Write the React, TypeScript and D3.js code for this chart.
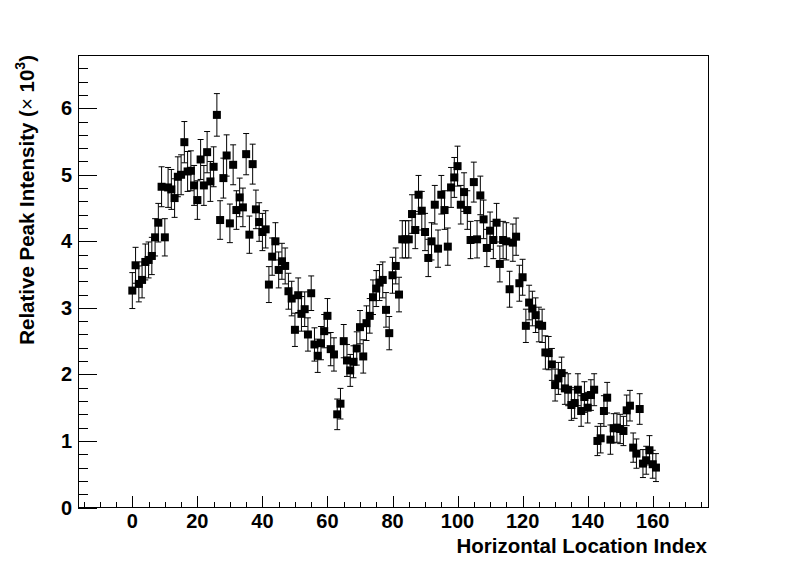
import * as d3 from "d3";
import React from "react";

// peak intensity (x 10^3) per horizontal location index 0..161
const intensity = [
  3.26, 3.64, 3.36, 3.42, 3.69, 3.72, 3.78, 4.06, 4.28, 4.82,
  4.06, 4.81, 4.78, 4.65, 4.97, 5.0, 5.49, 5.05, 5.06, 4.84,
  4.62, 5.23, 4.84, 5.34, 4.9, 5.12, 5.9, 4.32, 4.95, 5.29,
  4.27, 5.15, 4.47, 4.66, 4.51, 5.31, 4.1, 5.16, 4.48, 4.29,
  4.14, 4.18, 3.35, 3.77, 4.0, 3.57, 3.7, 3.63, 3.25, 3.14,
  2.67, 3.19, 2.91, 2.98, 2.6, 3.22, 2.45, 2.28, 2.47, 2.65,
  2.88, 2.38, 2.3, 1.4, 1.56, 2.5, 2.21, 2.06, 2.19, 2.39,
  2.71, 2.27, 2.77, 2.88, 3.16, 3.29, 3.38, 3.42, 2.97, 2.62,
  3.49, 3.63, 3.2, 4.03, 4.03, 4.03, 4.41, 4.17, 4.7, 4.46,
  4.14, 3.75, 4.0, 4.55, 3.89, 4.7, 4.47, 3.92, 4.81, 4.96,
  5.13, 4.55, 4.74, 4.47, 4.02, 4.89, 4.03, 4.69, 4.33, 3.9,
  4.16, 4.02, 4.28, 3.66, 4.02, 4.0, 3.28, 3.98, 4.07, 3.37,
  3.46, 2.73, 3.08, 2.99, 2.89, 2.75, 2.73, 2.33, 2.32, 2.15,
  1.84, 1.94, 2.02, 1.79, 1.77, 1.54, 1.57, 1.77, 1.45, 1.66,
  1.5, 1.69, 1.77, 1.0, 1.04, 1.45, 1.65, 1.02, 1.19, 1.2,
  1.18, 1.15, 1.46, 1.53, 0.9, 0.81, 1.48, 0.66, 0.71, 0.86,
  0.65, 0.6,
];

// error half-widths, same order
const errors = [
  0.27, 0.27, 0.27, 0.27, 0.27, 0.27, 0.28, 0.28, 0.29, 0.3,
  0.28, 0.3, 0.3, 0.29, 0.3, 0.3, 0.31, 0.3, 0.3, 0.3,
  0.29, 0.3, 0.3, 0.31, 0.3, 0.3, 0.32, 0.29, 0.3, 0.31,
  0.29, 0.3, 0.29, 0.29, 0.29, 0.31, 0.28, 0.3, 0.29, 0.29,
  0.28, 0.28, 0.27, 0.28, 0.28, 0.27, 0.27, 0.27, 0.27, 0.26,
  0.25, 0.26, 0.26, 0.26, 0.25, 0.26, 0.25, 0.25, 0.25, 0.25,
  0.26, 0.25, 0.25, 0.23, 0.23, 0.25, 0.24, 0.24, 0.24, 0.25,
  0.25, 0.25, 0.26, 0.26, 0.26, 0.27, 0.27, 0.27, 0.26, 0.25,
  0.27, 0.27, 0.26, 0.28, 0.28, 0.28, 0.29, 0.28, 0.29, 0.29,
  0.28, 0.28, 0.28, 0.29, 0.28, 0.29, 0.29, 0.28, 0.3, 0.3,
  0.3, 0.29, 0.29, 0.29, 0.28, 0.3, 0.28, 0.29, 0.29, 0.28,
  0.28, 0.28, 0.29, 0.27, 0.28, 0.28, 0.27, 0.28, 0.28, 0.27,
  0.27, 0.25, 0.26, 0.26, 0.26, 0.26, 0.25, 0.25, 0.25, 0.24,
  0.24, 0.24, 0.24, 0.24, 0.24, 0.23, 0.23, 0.24, 0.23, 0.23,
  0.23, 0.23, 0.24, 0.22, 0.22, 0.23, 0.23, 0.22, 0.22, 0.22,
  0.22, 0.22, 0.23, 0.23, 0.22, 0.22, 0.23, 0.21, 0.21, 0.22,
  0.21, 0.21,
];

const xMajor = [0, 20, 40, 60, 80, 100, 120, 140, 160];
const yMajor = [0, 1, 2, 3, 4, 5, 6];

const W = 788;
const H = 565;
const FONT = "'Liberation Sans', Arial, Helvetica, sans-serif";

export default function App() {
  const x = d3.scaleLinear().domain([-16.7, 177]).range([78, 708]);
  const y = d3.scaleLinear().domain([0, 6.8]).range([507.5, 55]);

  const xMinor = d3.range(-15, 177, 5).filter((v) => v % 20 !== 0);
  const yMinor = d3.range(0, 6.81, 0.2).filter((v) => Math.abs(v - Math.round(v)) > 0.01);

  const [x0, x1] = x.range();
  const [y0, y1] = y.range();
  const m = 4; // half marker size
  const cap = 3;

  return (
    <div style={{ position: "absolute", left: 0, top: 0 }}>
      <svg width={W} height={H} style={{ display: "block", background: "#fff" }} fontFamily={FONT}>
        <rect x={0} y={0} width={W} height={H} fill="#fff" />

        {/* frame */}
        <rect x={x0} y={y1} width={x1 - x0} height={y0 - y1} fill="none" stroke="#000" strokeWidth={1} shapeRendering="crispEdges" />

        {/* x ticks */}
        <g stroke="#000" shapeRendering="crispEdges">
          {xMajor.map((v) => (
            <line key={"xM" + v} x1={Math.round(x(v)) + 0.5} x2={Math.round(x(v)) + 0.5} y1={y0} y2={y0 - 12} />
          ))}
          {xMinor.map((v) => (
            <line key={"xm" + v} x1={Math.round(x(v)) + 0.5} x2={Math.round(x(v)) + 0.5} y1={y0} y2={y0 - 6} />
          ))}
          {yMajor.map((v) => (
            <line key={"yM" + v} x1={x0} x2={x0 + 19} y1={Math.round(y(v)) + 0.5} y2={Math.round(y(v)) + 0.5} />
          ))}
          {yMinor.map((v) => (
            <line key={"ym" + v} x1={x0} x2={x0 + 10} y1={Math.round(y(v)) + 0.5} y2={Math.round(y(v)) + 0.5} />
          ))}
        </g>

        {/* tick labels */}
        <g fontSize={20} fontWeight="bold" fill="#000">
          {xMajor.map((v) => (
            <text key={"xl" + v} x={x(v)} y={528} textAnchor="middle">{v}</text>
          ))}
          {yMajor.map((v) => (
            <text key={"yl" + v} x={72} y={y(v) + 7} textAnchor="end">{v}</text>
          ))}
        </g>

        {/* error bars + markers */}
        <g>
          {intensity.map((v, i) => {
            const cx = x(i);
            const top = y(v + errors[i]);
            const bot = y(v - errors[i]);
            return (
              <g key={i} stroke="#000" strokeWidth={1}>
                <line x1={cx} x2={cx} y1={top} y2={bot} />
                <line x1={cx - cap} x2={cx + cap} y1={top} y2={top} />
                <line x1={cx - cap} x2={cx + cap} y1={bot} y2={bot} />
              </g>
            );
          })}
          {intensity.map((v, i) => (
            <rect key={"m" + i} x={x(i) - m} y={y(v) - m} width={2 * m} height={2 * m} fill="#000" />
          ))}
        </g>

        {/* axis titles */}
        <text x={707} y={553} textAnchor="end" fontSize={20.5} fontWeight="bold">
          Horizontal Location Index
        </text>
        <text transform="translate(34,55) rotate(-90)" textAnchor="end" fontSize={20.5} fontWeight="bold">
          Relative Peak Intensity (<tspan fontWeight="normal">×</tspan> 10
          <tspan dy={-9} fontSize={14}>3</tspan>
          <tspan dy={9}>)</tspan>
        </text>
      </svg>
    </div>
  );
}
